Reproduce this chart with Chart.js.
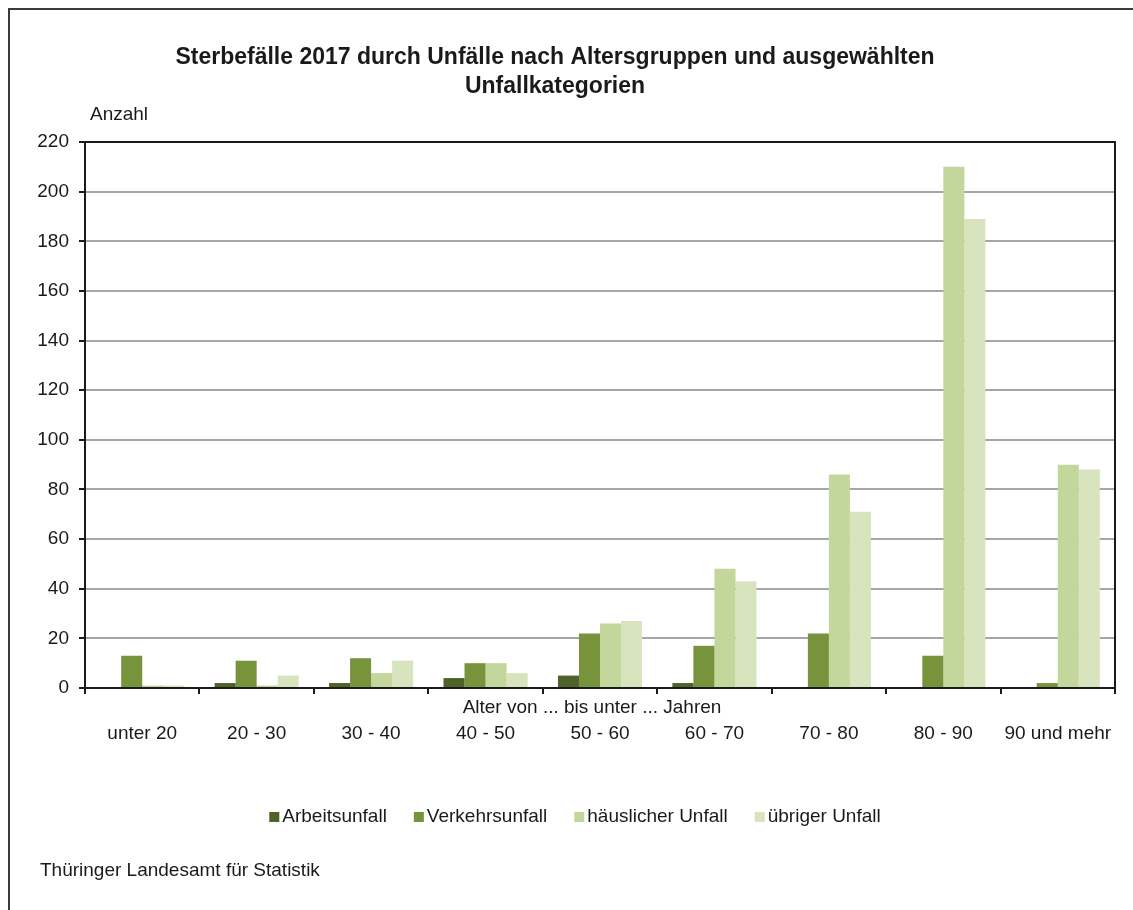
<!DOCTYPE html>
<html>
<head>
<meta charset="utf-8">
<script src="https://cdn.jsdelivr.net/npm/chart.js@4/dist/chart.umd.min.js"></script>
<style>
  html, body { margin: 0; padding: 0; background: #fff; }
  #wrap { width: 1133px; height: 910px; position: relative; }
</style>
</head>
<body>
<div id="wrap"><canvas id="myChart" width="1133" height="910"></canvas></div>
<script>
// Altersgruppen
const categories = ['unter 20', '20 - 30', '30 - 40', '40 - 50', '50 - 60', '60 - 70', '70 - 80', '80 - 90', '90 und mehr']
const seriesNames = ['Arbeitsunfall', 'Verkehrsunfall', 'häuslicher Unfall', 'übriger Unfall']
const arbeit    = [0, 2, 2, 4, 5, 2, 0, 0, 0]
const verkehr   = [13, 11, 12, 10, 22, 17, 22, 13, 2]
const haeuslich = [1, 1, 6, 10, 26, 48, 86, 210, 90]
const uebrig    = [1, 5, 11, 6, 27, 43, 71, 189, 88]
const yTicks = [0, 20, 40, 60, 80, 100, 120, 140, 160, 180, 200, 220]
const barColors = ['#4f6228', '#77933c', '#c3d69b', '#d7e4bd']

const FONT = '"Liberation Sans", Arial, sans-serif'
const TXT = 19

// texte + rahmen selber zeichnen
const extras = {
  id: 'extras',
  beforeDraw(chart) {
    const c = chart.ctx
    c.save()
    c.fillStyle = '#fff'
    c.fillRect(0, 0, chart.width, chart.height)
    // aussenrahmen (nur oben und links sichtbar)
    c.strokeStyle = '#3a3a3a'
    c.lineWidth = 2
    c.beginPath()
    c.moveTo(9, chart.height)
    c.lineTo(9, 9)
    c.lineTo(chart.width, 9)
    c.stroke()
    c.restore()
  },
  afterDraw(chart) {
    const c = chart.ctx
    const a = chart.chartArea
    c.save()
    // plot-rahmen
    c.strokeStyle = '#1a1a1a'
    c.lineWidth = 2
    c.strokeRect(a.left, a.top, a.right - a.left, a.bottom - a.top)

    c.fillStyle = '#1a1a1a'
    c.textBaseline = 'middle'
    // titel
    c.font = 'bold 23px ' + FONT
    c.textAlign = 'center'
    c.fillText('Sterbefälle 2017 durch Unfälle nach Altersgruppen und ausgewählten', 555, 58)
    c.fillText('Unfallkategorien', 555, 87)
    // einheit
    c.font = TXT + 'px ' + FONT
    c.textAlign = 'left'
    c.fillText('Anzahl', 90, 115)
    // achsentitel
    c.textAlign = 'center'
    c.fillText('Alter von ... bis unter ... Jahren', 592, 708)
    // quelle
    c.textAlign = 'left'
    c.fillText('Thüringer Landesamt für Statistik', 40, 871)

    // legende
    const box = 10, gapBox = 3, gapItem = 27
    let widths = chart.data.datasets.map(d => box + gapBox + c.measureText(d.label).width)
    let total = widths.reduce((s, w) => s + w, 0) + gapItem * (widths.length - 1)
    let x = 575 - total / 2
    const ly = 817
    chart.data.datasets.forEach((d, i) => {
      c.fillStyle = d.backgroundColor
      c.fillRect(x, ly - box / 2, box, box)
      c.fillStyle = '#1a1a1a'
      c.fillText(d.label, x + box + gapBox, ly)
      x += widths[i] + gapItem
    })
    c.restore()
  }
}

const series = [arbeit, verkehr, haeuslich, uebrig]

new Chart('myChart', {
  type: 'bar',
  data: {
    labels: categories,
    datasets: series.map((vals, i) => ({
      label: seriesNames[i],
      data: vals,
      backgroundColor: barColors[i],
      borderWidth: 0,
      categoryPercentage: 0.735,
      barPercentage: 1
    }))
  },
  options: {
    responsive: false,
    animation: false,
    layout: { padding: { left: 10, right: 18, top: 142, bottom: 162 } },
    plugins: {
      legend: { display: false },
      title: { display: false },
      tooltip: { enabled: false }
    },
    scales: {
      x: {
        afterFit(s) {
          s.height = 60
          s.paddingLeft = 0
          s.paddingRight = 0
        },
        grid: {
          offset: true,
          drawOnChartArea: false,
          drawTicks: true,
          tickLength: 6,
          color: '#1a1a1a',
          lineWidth: 2
        },
        border: { color: '#1a1a1a', width: 2 },
        ticks: {
          color: '#1a1a1a',
          font: { family: FONT, size: TXT },
          padding: 28,
          maxRotation: 0,
          autoSkip: false
        }
      },
      y: {
        min: 0,
        max: 220,
        afterFit(s) {
          s.width = 75
          s.paddingTop = 0
          s.paddingBottom = 0
        },
        afterBuildTicks(s) { s.ticks = yTicks.map(v => ({ value: v })) },
        grid: {
          color: '#a6a6a6',
          lineWidth: 2,
          drawTicks: true,
          tickLength: 6,
          tickColor: '#1a1a1a'
        },
        border: { color: '#1a1a1a', width: 2 },
        ticks: {
          color: '#1a1a1a',
          font: { family: FONT, size: TXT },
          padding: 10
        }
      }
    }
  },
  plugins: [extras]
})
</script>
</body>
</html>
